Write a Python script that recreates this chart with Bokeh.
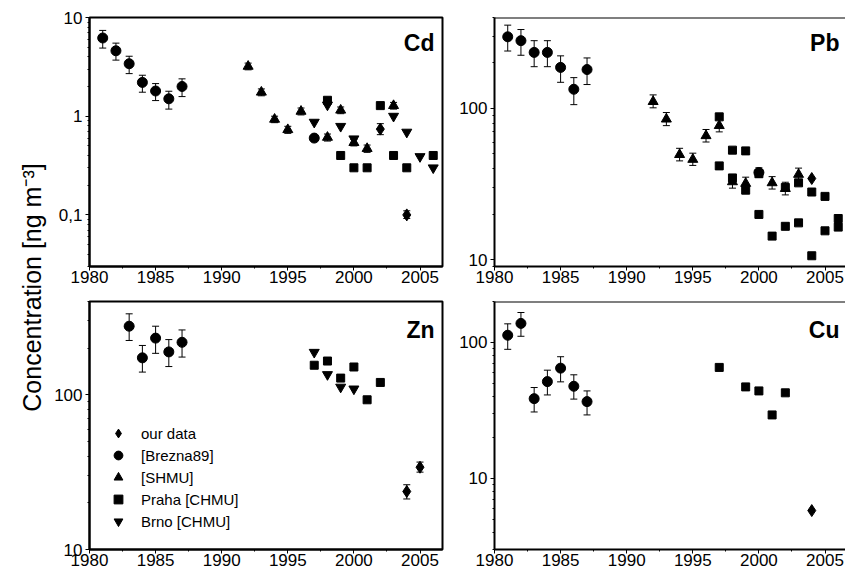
import math
from bokeh.plotting import figure
from bokeh.models import (Range1d, Whisker, TeeHead, ColumnDataSource, Label, Legend,
                          LegendItem, SingleIntervalTicker, FixedTicker,
                          CustomJSTickFormatter, Span)
from bokeh.layouts import row, column
from bokeh.embed import file_html
from bokeh.resources import INLINE

FONT = "Liberation Sans"

# ---------------- data ----------------
# Cd
cd_our_years = [2002, 2004]
cd_our = [0.74, 0.10]
cd_our_lo = [0.65, 0.092]
cd_our_hi = [0.84, 0.11]

cd_brez_years = [1981, 1982, 1983, 1984, 1985, 1986, 1987, 1997]
cd_brez = [6.2, 4.6, 3.4, 2.2, 1.8, 1.5, 2.0, 0.6]
cd_brez_err_years = [1981, 1982, 1983, 1984, 1985, 1986, 1987]
cd_brez_lo = [4.9, 3.7, 2.7, 1.75, 1.44, 1.18, 1.58]
cd_brez_hi = [7.4, 5.5, 4.05, 2.6, 2.14, 1.79, 2.39]

cd_shmu_years = [1992, 1993, 1994, 1995, 1996, 1998, 1999, 2000, 2001, 2003]
cd_shmu = [3.2, 1.75, 0.93, 0.73, 1.12, 0.61, 1.15, 0.54, 0.47, 1.28]
cd_shmu_lo = [2.95, 1.61, 0.86, 0.67, 1.03, 0.56, 1.06, 0.50, 0.43, 1.18]
cd_shmu_hi = [3.45, 1.89, 1.0, 0.79, 1.21, 0.66, 1.24, 0.58, 0.51, 1.38]

cd_praha_years = [1998, 1999, 2000, 2001, 2002, 2003, 2004, 2006]
cd_praha = [1.45, 0.40, 0.30, 0.30, 1.28, 0.40, 0.30, 0.40]

cd_brno_years = [1997, 1998, 1999, 2000, 2003, 2004, 2005, 2006]
cd_brno = [0.87, 1.3, 0.79, 0.59, 1.0, 0.69, 0.39, 0.30]

# Pb
pb_our_years = [2004]
pb_our = [34.4]

pb_brez_years = [1981, 1982, 1983, 1984, 1985, 1986, 1987, 2000]
pb_brez = [298, 281, 235, 235, 187, 134, 181, 37.7]
pb_brez_lo = [240, 225, 189, 189, 149, 106, 144, 35]
pb_brez_hi = [356, 333, 281, 281, 223, 160, 216, 40.5]

pb_shmu_years = [1992, 1993, 1994, 1995, 1996, 1997, 1998, 1999, 2001, 2002, 2003]
pb_shmu = [111, 85, 49.5, 46, 66, 77, 32.7, 31.9, 32.2, 29.5, 36.6]
pb_shmu_lo = [101, 77, 45, 42, 60, 70, 29.7, 29, 29.3, 26.8, 33.3]
pb_shmu_hi = [123, 94, 54.5, 50.6, 72.6, 84.7, 36, 35.1, 35.4, 32.5, 40.3]

pb_praha_years = [1997, 1997, 1998, 1998, 1999, 1999, 2000, 2000, 2001, 2002, 2002,
                  2003, 2003, 2004, 2004, 2005, 2005, 2006, 2006]
pb_praha = [88, 41.7, 53, 34.7, 52.4, 28.8, 37, 19.9, 14.3, 16.6, 30,
            17.5, 32.2, 28, 10.6, 26.2, 15.5, 18.7, 16.4]

# Zn
zn_our_years = [2004, 2005]
zn_our = [23.7, 34]
zn_our_lo = [21.2, 31.6]
zn_our_hi = [26.2, 36.7]

zn_brez_years = [1983, 1984, 1985, 1986, 1987]
zn_brez = [277, 173, 232, 189, 218]
zn_brez_lo = [224, 140, 185, 152, 175]
zn_brez_hi = [333, 208, 277, 227, 262]

zn_praha_years = [1997, 1998, 1999, 2000, 2001, 2002]
zn_praha = [155, 165, 128, 151, 92.7, 120]

zn_brno_years = [1997, 1998, 1999, 2000]
zn_brno = [188, 135, 112, 109]

# Cu
cu_our_years = [2004]
cu_our = [5.8]

cu_brez_years = [1981, 1982, 1983, 1984, 1985, 1986, 1987]
cu_brez = [113, 138, 38.6, 51.5, 64.7, 47.6, 36.7]
cu_brez_lo = [89, 111, 30.8, 41.1, 51.3, 38.3, 29.3]
cu_brez_hi = [137, 166, 46.6, 62.5, 78.5, 57.8, 44]

cu_praha_years = [1997, 1999, 2000, 2001, 2002]
cu_praha = [65.5, 47.1, 44, 29.3, 42.6]

# axis settings
x_start = 1980
cd_range = (0.03, 10)
pb_range = (9, 400)
zn_range = (10, 400)
cu_range = (3, 200)
cd_major = [0.1, 1, 10]
pb_major = [10, 100]
zn_major = [10, 100]
cu_major = [10, 100]
legend_labels = ["our data", "[Brezna89]", "[SHMU]", "Praha [CHMU]", "Brno [CHMU]"]
ylabel_text = "Concentration [ng m\u207b\u00b3]"

PX_PER_YEAR = 13.22
MINOR = [m * 10 ** k for k in range(-2, 3) for m in range(2, 10)]

SIZES = {"diamond": 12, "circle": 10, "triangle": 10, "square": 8, "inverted_triangle": 10}


def make_panel(name, yrange, major, col, top):
    fw = 353 if col == 0 else 351
    fh = 249 if top else 248
    p = figure(frame_width=fw, frame_height=fh,
               x_range=Range1d(x_start, x_start + fw / PX_PER_YEAR),
               y_range=Range1d(*yrange), y_axis_type="log",
               output_backend="svg", toolbar_location=None,
               min_border_left=41 if col == 0 else 40,
               min_border_right=12 if col == 0 else 0,
               min_border_top=17 if top else 2,
               min_border_bottom=33 if top else 26)
    p.grid.grid_line_color = None
    p.background_fill_color = "white"
    p.border_fill_color = "white"
    if col == 0:
        p.outline_line_color = "black"
        p.outline_line_width = 2
    else:
        p.outline_line_color = None
        p.add_layout(Span(location=yrange[1], dimension="width",
                          line_color="black", line_width=2))
    p.xaxis.ticker = SingleIntervalTicker(interval=5, num_minor_ticks=2)
    p.yaxis.ticker = FixedTicker(ticks=major, minor_ticks=MINOR)
    p.yaxis.formatter = CustomJSTickFormatter(
        code="const v = Math.round(tick*1000)/1000; return v.toString().replace('.', ',');")
    for ax in p.axis:
        ax.axis_line_width = 2
        ax.axis_line_color = "black"
        ax.major_tick_line_color = "black"
        ax.minor_tick_line_color = "black"
        ax.major_tick_line_width = 1
        ax.minor_tick_line_width = 1
        ax.major_tick_out = 4
        ax.major_tick_in = 0
        ax.minor_tick_out = 2
        ax.minor_tick_in = 0
        ax.major_label_text_font = FONT
        ax.major_label_text_font_size = "17px"
        ax.major_label_text_color = "black"
    p.xaxis.major_label_standoff = 0
    p.yaxis.major_label_standoff = 3
    p.add_layout(Label(x=fw - (8 if col == 0 else 6), y=fh - (12 if top else 15),
                       x_units="screen", y_units="screen", text=name,
                       text_align="right", text_baseline="top", text_font=FONT,
                       text_font_style="bold", text_font_size="23px",
                       text_color="black"))
    return p


def pts(p, xs, ys, marker, **kw):
    return p.scatter(xs, ys, marker=marker, size=SIZES[marker],
                     fill_color="black", line_color="black", **kw)


def errs(p, xs, lo, hi):
    src = ColumnDataSource(dict(x=xs, lo=lo, hi=hi))
    p.add_layout(Whisker(source=src, base="x", lower="lo", upper="hi",
                         line_color="black", line_width=1,
                         upper_head=TeeHead(size=7, line_color="black", line_width=1),
                         lower_head=TeeHead(size=7, line_color="black", line_width=1)))


# ---- Cd ----
p_cd = make_panel("Cd", cd_range, cd_major, 0, True)
errs(p_cd, cd_brez_err_years, cd_brez_lo, cd_brez_hi)
errs(p_cd, cd_shmu_years, cd_shmu_lo, cd_shmu_hi)
errs(p_cd, cd_our_years, cd_our_lo, cd_our_hi)
pts(p_cd, cd_brez_years, cd_brez, "circle")
pts(p_cd, cd_shmu_years, cd_shmu, "triangle")
pts(p_cd, cd_praha_years, cd_praha, "square")
pts(p_cd, cd_brno_years, cd_brno, "inverted_triangle")
pts(p_cd, cd_our_years, cd_our, "diamond")

# ---- Pb ----
p_pb = make_panel("Pb", pb_range, pb_major, 1, True)
errs(p_pb, pb_brez_years, pb_brez_lo, pb_brez_hi)
errs(p_pb, pb_shmu_years, pb_shmu_lo, pb_shmu_hi)
pts(p_pb, pb_brez_years, pb_brez, "circle")
pts(p_pb, pb_shmu_years, pb_shmu, "triangle")
pts(p_pb, pb_praha_years, pb_praha, "square")
pts(p_pb, pb_our_years, pb_our, "diamond")

# ---- Zn ----
p_zn = make_panel("Zn", zn_range, zn_major, 0, False)
errs(p_zn, zn_brez_years, zn_brez_lo, zn_brez_hi)
errs(p_zn, zn_our_years, zn_our_lo, zn_our_hi)
r_brez = pts(p_zn, zn_brez_years, zn_brez, "circle")
r_praha = pts(p_zn, zn_praha_years, zn_praha, "square")
r_brno = pts(p_zn, zn_brno_years, zn_brno, "inverted_triangle")
r_our = pts(p_zn, zn_our_years, zn_our, "diamond")
# no SHMU Zn series: hidden renderer (Cd SHMU source) only provides the legend swatch
r_shmu = pts(p_zn, cd_shmu_years, cd_shmu, "triangle", visible=False)
legend = Legend(items=[LegendItem(label=lab, renderers=[r]) for lab, r in
                       zip(legend_labels, [r_our, r_brez, r_shmu, r_praha, r_brno])],
                location=(18, 17), glyph_width=22, glyph_height=22, spacing=0,
                padding=0, margin=0, label_standoff=12, label_text_font=FONT,
                label_text_font_size="15px", label_text_color="black",
                background_fill_alpha=0, border_line_color=None,
                inactive_fill_alpha=0)
p_zn.add_layout(legend)

# ---- Cu ----
p_cu = make_panel("Cu", cu_range, cu_major, 1, False)
errs(p_cu, cu_brez_years, cu_brez_lo, cu_brez_hi)
pts(p_cu, cu_brez_years, cu_brez, "circle")
pts(p_cu, cu_praha_years, cu_praha, "square")
pts(p_cu, cu_our_years, cu_our, "diamond")

# ---- shared y label ----
p_lab = figure(width=48, height=575, x_range=(0, 1), y_range=(0, 1),
               x_axis_location=None, y_axis_location=None,
               output_backend="svg", toolbar_location=None, min_border=0)
p_lab.grid.grid_line_color = None
p_lab.outline_line_color = None
p_lab.add_layout(Label(x=31, y=288, x_units="screen", y_units="screen",
                       text=ylabel_text, angle=math.pi / 2, text_align="center",
                       text_baseline="middle", text_font=FONT,
                       text_font_size="25px", text_color="black"))

layout = row(p_lab, column(row(p_cd, p_pb), row(p_zn, p_cu)))

with open("out.html", "w") as f:
    f.write(file_html(layout, INLINE))
